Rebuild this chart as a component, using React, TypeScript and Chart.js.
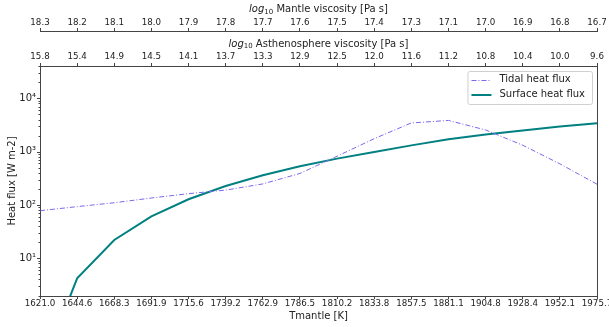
import React, { useEffect, useRef } from 'react';
import { Chart, registerables } from 'chart.js';

Chart.register(...registerables);

// ---- data ----
const tmantleLabels = ['1621.0', '1644.6', '1668.3', '1691.9', '1715.6', '1739.2', '1762.9', '1786.5', '1810.2', '1833.8', '1857.5', '1881.1', '1904.8', '1928.4', '1952.1', '1975.7'];
const mantleViscosityLabels = ['18.3', '18.2', '18.1', '18.0', '17.9', '17.8', '17.7', '17.6', '17.5', '17.4', '17.3', '17.1', '17.0', '16.9', '16.8', '16.7'];
const asthenoViscosityLabels = ['15.8', '15.4', '14.9', '14.5', '14.1', '13.7', '13.3', '12.9', '12.5', '12.0', '11.6', '11.2', '10.8', '10.4', '10.0', '9.6'];
const tidalHeatFlux = [78, 93, 110, 135, 163, 190, 248, 390, 820, 1750, 3450, 3850, 2550, 1320, 590, 245];
const surfaceHeatFlux = [0.07, 4.2, 22, 61, 128, 227, 360, 530, 740, 985, 1310, 1700, 2100, 2500, 2950, 3400];
const yMajorTicks = [10, 100, 1000, 10000];
const yMajorLabels = ['10\u00B9', '10\u00B2', '10\u00B3', '10\u2074'];
const yMinorMultipliers = [2, 3, 4, 5, 6, 7, 8, 9];
const yDecades = [1, 10, 100, 1000, 10000];
const yMin = 1.96;
const yMax = 40400;

const FONT = 'DejaVu Sans';
const AXIS = '#444444';
const TEXT = '#222222';
const TIDAL_COLOR = '#7B68EE';
const SURFACE_COLOR = '#008080';

function drawLogTitle(ctx: CanvasRenderingContext2D, rest: string, cx: number, cy: number) {
  ctx.save();
  ctx.fillStyle = TEXT;
  ctx.textBaseline = 'middle';
  ctx.textAlign = 'left';
  const fLog = `italic 10px '${FONT}'`;
  const fSub = `7px '${FONT}'`;
  const fRest = `10px '${FONT}'`;
  ctx.font = fLog;
  const wLog = ctx.measureText('log').width;
  ctx.font = fSub;
  const wSub = ctx.measureText('10').width;
  ctx.font = fRest;
  const wRest = ctx.measureText(rest).width;
  let x = cx - (wLog + wSub + wRest) / 2;
  ctx.font = fLog;
  ctx.fillText('log', x, cy);
  x += wLog;
  ctx.font = fSub;
  ctx.fillText('10', x, cy + 2.5);
  x += wSub;
  ctx.font = fRest;
  ctx.fillText(rest, x, cy);
  ctx.restore();
}

const decorPlugin = {
  id: 'decor',
  afterDraw(chart: any) {
    const ctx: CanvasRenderingContext2D = chart.ctx;
    const { left, right, top, bottom } = chart.chartArea;
    const y = chart.scales.y;
    ctx.save();
    ctx.strokeStyle = AXIS;
    ctx.lineWidth = 1;
    // right spine
    ctx.beginPath();
    ctx.moveTo(Math.round(right) + 0.5, top);
    ctx.lineTo(Math.round(right) + 0.5, bottom);
    ctx.stroke();
    // y ticks (major + minor)
    const lx = Math.round(left) + 0.5;
    yMajorTicks.forEach((v) => {
      const py = Math.round(y.getPixelForValue(v)) + 0.5;
      ctx.beginPath();
      ctx.moveTo(lx - 3.5, py);
      ctx.lineTo(lx, py);
      ctx.stroke();
    });
    yDecades.forEach((d) => {
      yMinorMultipliers.forEach((m) => {
        const v = d * m;
        if (v < yMin || v > yMax) return;
        const py = Math.round(y.getPixelForValue(v)) + 0.5;
        ctx.beginPath();
        ctx.moveTo(lx - 2, py);
        ctx.lineTo(lx, py);
        ctx.stroke();
      });
    });
    ctx.restore();

    // top axis titles
    const cx = (left + right) / 2;
    drawLogTitle(ctx, ' Mantle viscosity [Pa s]', cx, chart.scales.xMantle.bottom - 21.5);
    drawLogTitle(ctx, ' Asthenosphere viscosity [Pa s]', cx, chart.scales.xAstheno.bottom - 22);

    // legend
    const datasets = chart.data.datasets;
    ctx.save();
    ctx.font = `10px '${FONT}'`;
    let maxW = 0;
    datasets.forEach((ds: any) => {
      maxW = Math.max(maxW, ctx.measureText(ds.label).width);
    });
    const boxW = 4 + 20 + 8 + maxW + 7;
    const boxH = 33;
    const bx = right - 5 - boxW;
    const by = top + 5;
    ctx.beginPath();
    (ctx as any).roundRect(bx + 0.5, by + 0.5, boxW, boxH, 2);
    ctx.fillStyle = 'rgba(255,255,255,0.8)';
    ctx.fill();
    ctx.strokeStyle = '#d0d0d0';
    ctx.lineWidth = 1;
    ctx.stroke();
    datasets.forEach((ds: any, i: number) => {
      const ry = by + 8.5 + i * 15;
      ctx.save();
      ctx.strokeStyle = ds.borderColor;
      ctx.lineWidth = ds.borderWidth;
      ctx.setLineDash(ds.borderDash || []);
      ctx.beginPath();
      ctx.moveTo(bx + 4, Math.round(ry) + (ds.borderWidth % 2 ? 0.5 : 0));
      ctx.lineTo(bx + 24, Math.round(ry) + (ds.borderWidth % 2 ? 0.5 : 0));
      ctx.stroke();
      ctx.restore();
      ctx.fillStyle = TEXT;
      ctx.textBaseline = 'middle';
      ctx.textAlign = 'left';
      ctx.fillText(ds.label, bx + 32, ry);
    });
    ctx.restore();
  },
};

export default function App() {
  const ref = useRef<HTMLCanvasElement | null>(null);
  useEffect(() => {
    if (!ref.current) return;
    const tickFont = { family: FONT, size: 8.7 };
    const titleFont = { family: FONT, size: 10 };
    const chart = new Chart(ref.current, {
      type: 'line',
      data: {
        labels: tmantleLabels,
        datasets: [
          {
            label: 'Tidal heat flux',
            data: tidalHeatFlux,
            borderColor: TIDAL_COLOR,
            backgroundColor: TIDAL_COLOR,
            borderWidth: 1,
            borderDash: [5, 2, 1, 2],
            pointRadius: 0,
            tension: 0,
            fill: false,
          },
          {
            label: 'Surface heat flux',
            data: surfaceHeatFlux,
            borderColor: SURFACE_COLOR,
            backgroundColor: SURFACE_COLOR,
            borderWidth: 2,
            pointRadius: 0,
            tension: 0,
            fill: false,
          },
        ],
      },
      options: {
        animation: false,
        responsive: false,
        devicePixelRatio: 1,
        layout: { padding: { left: 0, right: 12, top: 0, bottom: 0 } },
        plugins: { legend: { display: false }, tooltip: { enabled: false } },
        events: [],
        scales: {
          x: {
            type: 'category',
            position: 'bottom',
            labels: tmantleLabels,
            offset: false,
            grid: { drawOnChartArea: false, drawTicks: true, tickLength: 3, color: AXIS, tickColor: AXIS },
            border: { display: true, color: AXIS, width: 1 },
            ticks: { font: tickFont, color: TEXT, padding: 0, maxRotation: 0, autoSkip: false },
            title: { display: true, text: 'Tmantle [K]', font: titleFont, color: TEXT, padding: { top: 0, bottom: 5 } },
            afterFit: (s: any) => {
              s.height = 31;
              s.paddingLeft = 0;
              s.paddingRight = 0;
            },
          },
          xMantle: {
            type: 'category',
            position: 'top',
            weight: 2,
            labels: mantleViscosityLabels,
            offset: false,
            grid: { drawOnChartArea: false, drawTicks: true, tickLength: 3, color: AXIS, tickColor: AXIS },
            border: { display: true, color: AXIS, width: 1 },
            ticks: { font: tickFont, color: TEXT, padding: 0, maxRotation: 0, autoSkip: false },
            afterFit: (s: any) => {
              s.height = 31;
              s.paddingLeft = 0;
              s.paddingRight = 0;
            },
          },
          xAstheno: {
            type: 'category',
            position: 'top',
            weight: 1,
            labels: asthenoViscosityLabels,
            offset: false,
            grid: { drawOnChartArea: false, drawTicks: true, tickLength: 3, color: AXIS, tickColor: AXIS },
            border: { display: true, color: AXIS, width: 1 },
            ticks: { font: tickFont, color: TEXT, padding: 1, maxRotation: 0, autoSkip: false },
            afterFit: (s: any) => {
              s.height = 35;
              s.paddingLeft = 0;
              s.paddingRight = 0;
            },
          },
          y: {
            type: 'logarithmic',
            position: 'left',
            min: yMin,
            max: yMax,
            grid: { display: false, drawTicks: false },
            border: { display: true, color: AXIS, width: 1 },
            ticks: {
              font: { family: FONT, size: 10 },
              color: TEXT,
              padding: 4,
              autoSkip: false,
              callback: (value: any) => {
                const i = yMajorTicks.indexOf(Number(value));
                return i >= 0 ? yMajorLabels[i] : '';
              },
            },
            afterBuildTicks: (s: any) => {
              s.ticks = yMajorTicks.map((v) => ({ value: v, major: true }));
            },
            title: { display: true, text: 'Heat flux [W m-2]', font: titleFont, color: TEXT, padding: { top: 6.5, bottom: 0 } },
            afterFit: (s: any) => {
              s.width = 40;
              s.paddingTop = 0;
              s.paddingBottom = 0;
            },
          },
        },
      },
      plugins: [decorPlugin],
    } as any);
    return () => chart.destroy();
  }, []);
  return (
    <div style={{ position: 'absolute', left: 0, top: 0, width: 609, height: 327, background: '#fff' }}>
      <canvas ref={ref} width={609} height={327} style={{ display: 'block', width: 609, height: 327 }} />
    </div>
  );
}
